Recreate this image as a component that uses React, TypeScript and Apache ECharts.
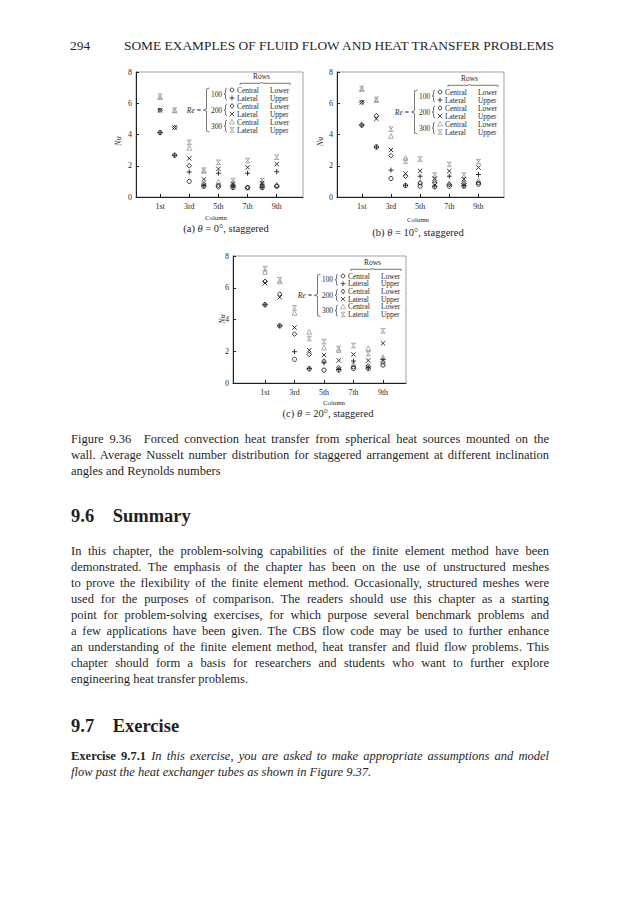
import React, { useEffect, useRef } from "react";
import * as echarts from "echarts";

// ---------- data ----------
const columns = [1, 2, 3, 4, 5, 6, 7, 8, 9];
const columnTickValues = [1, 3, 5, 7, 9];
const columnTickLabels = ["1st", "3rd", "5th", "7th", "9th"];

// (a) theta = 0 deg
const a_re100Central = [4.12, 2.67, 1.0, 0.68, 0.65, 0.6, 0.6, 0.6, 0.68];
const a_re100Lateral = [4.12, 2.67, 1.6, 0.72, 1.52, 0.65, 1.52, 0.62, 1.62];
const a_re200Central = [5.55, 4.45, 2.0, 0.83, 0.75, 0.72, 0.62, 0.7, 0.72];
const a_re200Lateral = [5.55, 4.45, 2.47, 1.13, 1.8, 0.85, 1.9, 0.9, 2.1];
const a_re300Central = [6.4, 5.55, 3.15, 1.68, 0.98, 0.9, 0.62, 0.95, 0.78];
const a_re300Lateral = [6.45, 5.55, 3.5, 1.72, 2.22, 1.05, 2.33, 1.05, 2.55];

// (b) theta = 10 deg
const b_re100Central = [4.6, 3.2, 1.18, 0.73, 0.69, 0.65, 0.69, 0.69, 0.82];
const b_re100Lateral = [4.6, 3.2, 1.72, 0.75, 1.33, 0.7, 1.33, 0.72, 1.44];
const b_re200Central = [6.06, 5.2, 2.65, 1.33, 0.9, 0.9, 0.8, 0.85, 0.9];
const b_re200Lateral = [6.06, 5.0, 3.01, 1.5, 1.68, 1.18, 1.66, 1.14, 1.89];
const b_re300Central = [6.9, 6.2, 3.91, 2.5, 0.95, 1.08, 0.9, 1.0, 1.08];
const b_re300Lateral = [6.95, 6.25, 4.34, 2.3, 2.43, 1.4, 2.09, 1.4, 2.26];

// (c) theta = 20 deg
const c_re100Central = [4.93, 3.6, 1.49, 0.89, 0.81, 0.81, 0.91, 0.91, 1.13];
const c_re100Lateral = [4.93, 3.6, 1.97, 0.92, 1.27, 0.85, 1.38, 0.95, 1.49];
const c_re200Central = [6.4, 5.6, 3.08, 1.8, 1.38, 0.96, 1.0, 1.06, 1.32];
const c_re200Lateral = [6.3, 5.4, 3.5, 2.06, 1.76, 1.42, 1.8, 1.42, 2.5];
const c_re300Central = [7.0, 6.4, 4.42, 3.23, 2.23, 2.08, 1.2, 2.19, 1.63];
const c_re300Lateral = [7.2, 6.5, 4.73, 2.8, 2.61, 2.17, 2.36, 1.85, 3.29];

const reynolds = ["100", "200", "300"];
const captionLetters = ["(a)", "(b)", "(c)"];
const captionAngles = ["0°", "10°", "20°"];

// ---------- text ----------
const headerNumber = "294";
const headerTitle = "SOME EXAMPLES OF FLUID FLOW AND HEAT TRANSFER PROBLEMS";
const figureCaption = [
  "Figure 9.36\u2003Forced convection heat transfer from spherical heat sources mounted on the",
  "wall. Average Nusselt number distribution for staggered arrangement at different inclination",
  "angles and Reynolds numbers",
];
const summaryLines = [
  "In this chapter, the problem-solving capabilities of the finite element method have been",
  "demonstrated. The emphasis of the chapter has been on the use of unstructured meshes",
  "to prove the flexibility of the finite element method. Occasionally, structured meshes were",
  "used for the purposes of comparison. The readers should use this chapter as a starting",
  "point for problem-solving exercises, for which purpose several benchmark problems and",
  "a few applications have been given. The CBS flow code may be used to further enhance",
  "an understanding of the finite element method, heat transfer and fluid flow problems. This",
  "chapter should form a basis for researchers and students who want to further explore",
  "engineering heat transfer problems.",
];

// ---------- styles ----------
const FONT = "'Liberation Serif', 'Times New Roman', serif";
const DARK = "#1f1f1f";
const GRAY = "#a0a0a0";

const SYM_PLUS = "path://M5,0L5,10M0,5L10,5";
const SYM_CROSS = "path://M0,0L10,10M10,0L0,10";
const SYM_BARX = "path://M0,0L10,0M0,10L10,10M1,0L9,10M9,0L1,10";

const markerStyles = [
  { name: "Re=100 Central/Lower", symbol: "circle", size: 4.2, color: DARK },
  { name: "Re=100 Lateral/Upper", symbol: SYM_PLUS, size: 5, color: DARK },
  { name: "Re=200 Central/Lower", symbol: "diamond", size: 4.6, color: DARK },
  { name: "Re=200 Lateral/Upper", symbol: SYM_CROSS, size: 4.4, color: DARK },
  { name: "Re=300 Central/Lower", symbol: "triangle", size: 4.8, color: GRAY },
  { name: "Re=300 Lateral/Upper", symbol: SYM_BARX, size: 4.6, color: GRAY },
];

const panels = [
  {
    data: [a_re100Central, a_re100Lateral, a_re200Central, a_re200Lateral, a_re300Central, a_re300Lateral],
    grid: { left: 136, top: 72, width: 167, height: 125 },
    xmin: -0.65, xmax: 10.8,
    legend: { mx: 232, ry: 90, dy: 8 },
    nu: [118, 141], column: [216, 217], caption: [226, 228.5],
  },
  {
    data: [b_re100Central, b_re100Lateral, b_re200Central, b_re200Lateral, b_re300Central, b_re300Lateral],
    grid: { left: 337, top: 72, width: 167, height: 125 },
    xmin: -0.7, xmax: 10.75,
    legend: { mx: 440, ry: 92, dy: 8 },
    nu: [320, 141.5], column: [418, 219], caption: [418, 232.5],
  },
  {
    data: [c_re100Central, c_re100Lateral, c_re200Central, c_re200Lateral, c_re300Central, c_re300Lateral],
    grid: { left: 233, top: 256, width: 173, height: 127 },
    xmin: -1.17, xmax: 10.56,
    legend: { mx: 343, ry: 276, dy: 7.7 },
    nu: [222.5, 319], column: [334, 402], caption: [328, 413],
  },
];

const LEG_FS = 7.4;

function markerGraphic(kind: number, x: number, y: number): any[] {
  const c = kind >= 4 ? GRAY : DARK;
  const st = { stroke: c, lineWidth: 0.8, fill: "none" };
  const ln = (x1: number, y1: number, x2: number, y2: number) => ({
    type: "line", silent: true, shape: { x1, y1, x2, y2 }, style: st,
  });
  switch (kind) {
    case 0:
      return [{ type: "circle", silent: true, shape: { cx: x, cy: y, r: 1.9 }, style: st }];
    case 1:
      return [ln(x - 2.5, y, x + 2.5, y), ln(x, y - 2.5, x, y + 2.5)];
    case 2:
      return [{ type: "polygon", silent: true, shape: { points: [[x, y - 2.4], [x + 1.9, y], [x, y + 2.4], [x - 1.9, y]] }, style: st }];
    case 3:
      return [ln(x - 2.2, y - 2.2, x + 2.2, y + 2.2), ln(x + 2.2, y - 2.2, x - 2.2, y + 2.2)];
    case 4:
      return [{ type: "polygon", silent: true, shape: { points: [[x, y - 2.5], [x + 2.5, y + 2], [x - 2.5, y + 2]] }, style: st }];
    default:
      return [
        ln(x - 2.3, y - 2.3, x + 2.3, y - 2.3), ln(x - 2.3, y + 2.3, x + 2.3, y + 2.3),
        ln(x - 1.8, y - 2.3, x + 1.8, y + 2.3), ln(x + 1.8, y - 2.3, x - 1.8, y + 2.3),
      ];
  }
}

function txt(text: string, x: number, y: number, size: number, align = "left", extra: any = {}) {
  return {
    type: "text", x, y, silent: true,
    style: { text, fill: DARK, fontSize: size, fontFamily: FONT, align, verticalAlign: "middle", ...extra },
  };
}

function legendGraphics(mx: number, ry: number, dy: number): any[] {
  const els: any[] = [];
  const lineSt = { stroke: DARK, lineWidth: 0.6, fill: "none" };
  els.push(txt("Rows", mx + 29.5, ry - 13.3, LEG_FS, "center"));
  els.push({
    type: "polyline", silent: true,
    shape: { points: [[mx + 8, ry - 5], [mx + 8, ry - 6.7], [mx + 28.5, ry - 6.7], [mx + 29.5, ry - 8], [mx + 30.5, ry - 6.7], [mx + 58, ry - 6.7], [mx + 58, ry - 5]] },
    style: lineSt,
  });
  for (let k = 0; k < 3; k++) {
    const top = ry + 2 * k * dy;
    const gy = top + dy / 2;
    els.push(txt(reynolds[k], mx - 15.5, gy, LEG_FS, "center"));
    els.push({
      type: "polyline", silent: true,
      shape: { points: [[mx - 5, top - 2], [mx - 6.5, top - 1], [mx - 6.5, gy - 0.8], [mx - 8, gy], [mx - 6.5, gy + 0.8], [mx - 6.5, top + dy + 1], [mx - 5, top + dy + 2]] },
      style: lineSt,
    });
  }
  for (let j = 0; j < 6; j++) {
    const y = ry + j * dy;
    const central = j % 2 === 0;
    els.push(txt(central ? "Central" : "Lateral", mx + 5, y, LEG_FS));
    els.push(txt(central ? "Lower" : "Upper", mx + 38, y, LEG_FS));
    els.push(...markerGraphic(j, mx, y));
  }
  const mid = ry + 2.5 * dy;
  els.push({
    type: "polyline", silent: true,
    shape: { points: [[mx - 22.5, ry - 2], [mx - 25.5, ry - 1], [mx - 25.5, mid - 1], [mx - 28.5, mid], [mx - 25.5, mid + 1], [mx - 25.5, ry + 5 * dy + 1], [mx - 22.5, ry + 5 * dy + 2]] },
    style: lineSt,
  });
  els.push({
    type: "text", x: mx - 31, y: mid, silent: true,
    style: {
      text: "{i|Re} =", fill: DARK, fontSize: 7.6, fontFamily: FONT, align: "right", verticalAlign: "middle",
      rich: { i: { fontStyle: "italic", fontSize: 7.6, fontFamily: FONT, fill: DARK } },
    },
  });
  return els;
}

const labelMap: Record<number, string> = {};
columnTickValues.forEach((v, i) => (labelMap[v] = columnTickLabels[i]));

function buildOption() {
  const grid: any[] = [];
  const xAxis: any[] = [];
  const yAxis: any[] = [];
  const series: any[] = [];
  const graphic: any[] = [];
  panels.forEach((p, pi) => {
    grid.push({ ...p.grid, show: true, borderColor: "#8a8a8a", borderWidth: 0.8, backgroundColor: "transparent" });
    xAxis.push({
      type: "value", gridIndex: pi, min: p.xmin, max: p.xmax,
      axisLine: { show: true, onZero: false, lineStyle: { color: DARK, width: 1 } },
      splitLine: { show: false },
      axisTick: { show: true, inside: true, length: 3, customValues: columnTickValues, lineStyle: { color: DARK } },
      axisLabel: {
        customValues: columnTickValues, formatter: (v: number) => labelMap[Math.round(v)] || "",
        fontSize: 8, fontFamily: FONT, color: DARK, margin: 5,
      },
    });
    yAxis.push({
      type: "value", gridIndex: pi, min: 0, max: 8, interval: 2,
      axisLine: { show: true, onZero: false, lineStyle: { color: DARK, width: 1 } },
      splitLine: { show: false },
      axisTick: { show: true, inside: true, length: 3, lineStyle: { color: DARK } },
      axisLabel: { fontSize: 8, fontFamily: FONT, color: DARK, margin: 4 },
    });
    markerStyles.forEach((m, si) => {
      series.push({
        type: "scatter", name: m.name, xAxisIndex: pi, yAxisIndex: pi,
        symbol: m.symbol, symbolSize: m.size,
        itemStyle: { color: "transparent", borderColor: m.color, borderWidth: 0.9, opacity: 1 },
        data: columns.map((c, i) => [c, p.data[si][i]]),
        silent: true, z: si >= 4 ? 2 : 3,
      });
    });
    graphic.push(...legendGraphics(p.legend.mx, p.legend.ry, p.legend.dy));
    graphic.push({
      type: "text", x: p.nu[0], y: p.nu[1], rotation: Math.PI / 2, silent: true,
      style: { text: "Nu", fill: DARK, fontSize: 8, fontFamily: FONT, fontStyle: "italic", align: "center", verticalAlign: "middle" },
    });
    graphic.push(txt("Column", p.column[0], p.column[1], 6.8, "center"));
    graphic.push({
      type: "text", x: p.caption[0], y: p.caption[1], silent: true,
      style: {
        text: `${captionLetters[pi]} {i|θ} = ${captionAngles[pi]}, staggered`,
        fill: DARK, fontSize: 10.5, fontFamily: FONT, align: "center", verticalAlign: "middle",
        rich: { i: { fontStyle: "italic", fontSize: 10.5, fontFamily: FONT, fill: DARK } },
      },
    });
  });
  return { animation: false, backgroundColor: "transparent", grid, xAxis, yAxis, series, graphic };
}

const bodyFont: React.CSSProperties = {
  position: "absolute", left: 71, width: 478, fontFamily: FONT, fontSize: 12.5,
  lineHeight: "16px", color: DARK, margin: 0,
};

function Line({ text, top, last }: { text: React.ReactNode; top: number; last?: boolean }) {
  return (
    <div style={{ ...bodyFont, top, textAlign: last ? "left" : "justify", textAlignLast: last ? "left" : "justify" }}>
      {text}
    </div>
  );
}

export default function App() {
  const ref = useRef<HTMLDivElement>(null);
  useEffect(() => {
    if (!ref.current) return;
    const chart = echarts.init(ref.current, undefined, { renderer: "svg" });
    chart.setOption(buildOption() as any);
    return () => chart.dispose();
  }, []);

  const headingStyle: React.CSSProperties = {
    position: "absolute", fontFamily: FONT, fontSize: 18.5, fontWeight: "bold", lineHeight: "22px", color: DARK, whiteSpace: "nowrap",
  };

  return (
    <div style={{ position: "absolute", left: 0, top: 0, width: 619, height: 900, background: "#fff", overflow: "hidden" }}>
      <div ref={ref} style={{ position: "absolute", left: 0, top: 0, width: 619, height: 425 }} />
      <div style={{ position: "absolute", left: 70, top: 37.9, fontFamily: FONT, fontSize: 13.4, lineHeight: "16px", color: DARK }}>{headerNumber}</div>
      <div style={{ position: "absolute", left: 124, top: 37.9, fontFamily: FONT, fontSize: 13.4, lineHeight: "16px", color: DARK, whiteSpace: "nowrap" }}>{headerTitle}</div>

      {figureCaption.map((t, i) => (
        <Line key={"c" + i} text={t} top={430.5 + i * 16} last={i === figureCaption.length - 1} />
      ))}

      <div style={{ ...headingStyle, left: 71, top: 505 }}>9.6</div>
      <div style={{ ...headingStyle, left: 112.7, top: 505 }}>Summary</div>

      {summaryLines.map((t, i) => (
        <Line key={"s" + i} text={t} top={543.2 + i * 16} last={i === summaryLines.length - 1} />
      ))}

      <div style={{ ...headingStyle, left: 71, top: 715.3 }}>9.7</div>
      <div style={{ ...headingStyle, left: 112.7, top: 715.3 }}>Exercise</div>

      <Line
        top={748.2}
        text={
          <>
            <b>Exercise 9.7.1</b> <i>In this exercise, you are asked to make appropriate assumptions and model</i>
          </>
        }
      />
      <Line top={764.2} last text={<i>flow past the heat exchanger tubes as shown in Figure 9.37.</i>} />
    </div>
  );
}
